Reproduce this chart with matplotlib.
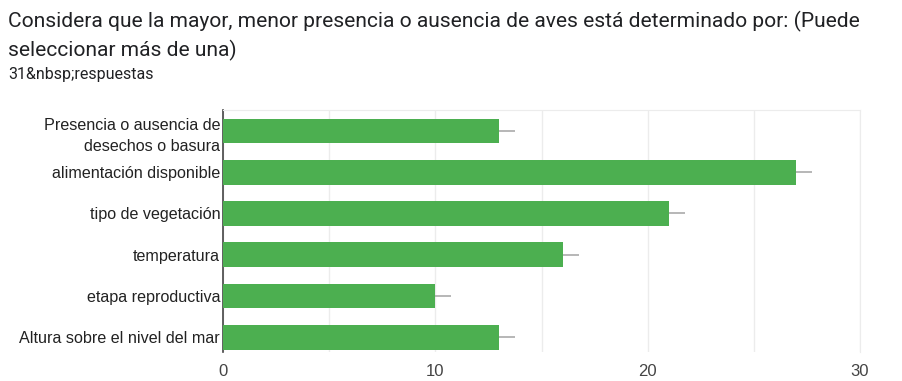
import matplotlib
matplotlib.use("Agg")
import matplotlib.pyplot as plt

categories = [
    "Presencia o ausencia de\ndesechos o basura",
    "alimentación disponible",
    "tipo de vegetación",
    "temperatura",
    "etapa reproductiva",
    "Altura sobre el nivel del mar",
]
values = [13, 27, 21, 16, 10, 13]
x_ticks = [0, 10, 20, 30]

fig = plt.figure(figsize=(9.02, 3.81), dpi=100)
ax = fig.add_axes([223 / 902, 1 - 352 / 381, (860 - 223) / 902, (352 - 110) / 381])

ypos = list(range(len(categories)))
ax.barh(ypos, values, height=0.6, color="#4caf50", zorder=3)
# small whisker after each bar
ax.hlines(ypos, values, [v + 0.75 for v in values], color="#aaaaaa", lw=1.2, zorder=2)

ax.set_xlim(0, 30)
ax.set_ylim(5.36, -0.51)
ax.set_xticks(x_ticks)
ax.set_xticks([5, 15, 25], minor=True)
ax.grid(axis="x", which="both", color="#ececec", lw=1, zorder=0)
ax.set_yticks(ypos)
ax.set_yticklabels(categories, fontsize=11.6, family="Liberation Sans", color="#222222",
                   linespacing=1.5)
for lbl in ax.get_xticklabels():
    lbl.set_fontsize(12)
    lbl.set_family("Liberation Sans")
    lbl.set_color("#444444")
ax.tick_params(axis="both", which="both", length=0)
ax.tick_params(axis="x", pad=9)
ax.tick_params(axis="y", pad=2)
for s in ["top", "right", "bottom"]:
    ax.spines[s].set_color("#ececec")
ax.spines["bottom"].set_visible(False)
ax.spines["left"].set_color("#444444")
ax.spines["left"].set_linewidth(1.2)

fig.text(8 / 902, 1 - 21 / 381,
         "Considera que la mayor, menor presencia o ausencia de aves está determinado por: (Puede",
         fontsize=15.1, family="Roboto", color="#202124", va="center")
fig.text(8 / 902, 1 - 50 / 381, "seleccionar más de una)",
         fontsize=15.1, family="Roboto", color="#202124", va="center")
fig.text(8 / 902, 1 - 75 / 381, "31&nbsp;respuestas",
         fontsize=11.5, family="Roboto", color="#202124", va="center")

fig.savefig("out.png", dpi=100)
